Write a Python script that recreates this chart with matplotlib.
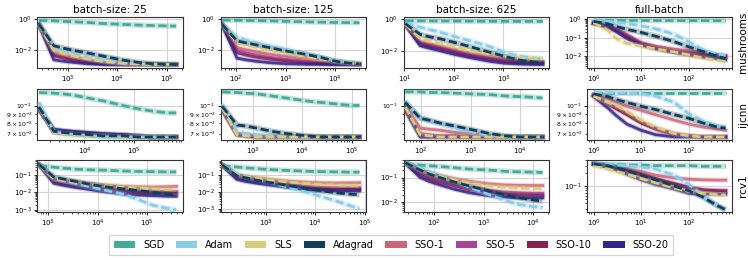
# Loss curves of baselines vs SSO on three datasets, grid of batch sizes
import numpy as np
from matplotlib import pyplot as plt
from matplotlib.patches import Patch
from matplotlib.ticker import NullFormatter

methods = ["SGD", "Adam", "SLS", "Adagrad", "SSO-1", "SSO-5", "SSO-10", "SSO-20"]
colors = ["#44AA99", "#88CCEE", "#DDCC77", "#0E3F5C", "#CC6677", "#AA4499", "#882255", "#332288"]
baselines = ["SGD", "Adam", "SLS", "Adagrad"]

col_titles = ["batch-size: 25", "batch-size: 125", "batch-size: 625", "full-batch"]
datasets = ["mushrooms", "ijcnn", "rcv1"]

# epochs at which the loss is recorded
epochs = [1, 2, 3, 5, 10, 20, 50, 100, 200, 400, 600]
# iterations per epoch for each (dataset, batch size)
iters_per_epoch = {
    "mushrooms": [260, 52, 10.4, 1],
    "ijcnn": [1200, 240, 48, 1],
    "rcv1": [648, 130, 26, 1],
}

# ---- mushrooms ----
mush_25 = {
    "SGD": [0.8, 0.75, 0.7, 0.65, 0.58, 0.5, 0.44, 0.4, 0.37, 0.35, 0.34],
    "Adam": [0.45, 0.012, 0.008, 0.005, 0.003, 0.002, 0.0014, 0.0012, 0.0011, 0.0011, 0.0011],
    "SLS": [0.45, 0.009, 0.006, 0.004, 0.0025, 0.0017, 0.0013, 0.0012, 0.0011, 0.0011, 0.0011],
    "Adagrad": [0.45, 0.018, 0.013, 0.009, 0.006, 0.0038, 0.0021, 0.0015, 0.0012, 0.0011, 0.0011],
    "SSO-1": [0.45, 0.007, 0.005, 0.0035, 0.0022, 0.0016, 0.0012, 0.0011, 0.0011, 0.0011, 0.0011],
    "SSO-5": [0.45, 0.005, 0.0035, 0.0025, 0.0017, 0.0013, 0.0011, 0.0011, 0.0011, 0.0011, 0.0011],
    "SSO-10": [0.45, 0.004, 0.003, 0.002, 0.0015, 0.0012, 0.0011, 0.0011, 0.0011, 0.0011, 0.0011],
    "SSO-20": [0.4, 0.0022, 0.0018, 0.0015, 0.0012, 0.0011, 0.0011, 0.0011, 0.0011, 0.0011, 0.0011],
}
mush_125 = {
    "SGD": [0.85, 0.83, 0.8, 0.78, 0.75, 0.7, 0.65, 0.62, 0.6, 0.58, 0.57],
    "Adam": [0.45, 0.07, 0.045, 0.03, 0.018, 0.011, 0.006, 0.0035, 0.002, 0.0015, 0.0014],
    "SLS": [0.45, 0.03, 0.022, 0.015, 0.01, 0.007, 0.004, 0.0028, 0.002, 0.0017, 0.0016],
    "Adagrad": [0.45, 0.04, 0.03, 0.022, 0.014, 0.009, 0.0055, 0.0035, 0.002, 0.0015, 0.0014],
    "SSO-1": [0.45, 0.015, 0.011, 0.008, 0.0055, 0.0042, 0.003, 0.0022, 0.0016, 0.0014, 0.0013],
    "SSO-5": [0.45, 0.01, 0.007, 0.005, 0.0035, 0.0027, 0.002, 0.0016, 0.0014, 0.0013, 0.0013],
    "SSO-10": [0.45, 0.007, 0.005, 0.0036, 0.0027, 0.0021, 0.0016, 0.0014, 0.0013, 0.0013, 0.0013],
    "SSO-20": [0.42, 0.0032, 0.0025, 0.002, 0.0016, 0.0014, 0.0013, 0.0013, 0.0013, 0.0013, 0.0013],
}
mush_625 = {
    "SGD": [0.75, 0.74, 0.73, 0.72, 0.72, 0.71, 0.7, 0.7, 0.69, 0.69, 0.68],
    "Adam": [0.55, 0.3, 0.22, 0.15, 0.08, 0.045, 0.02, 0.009, 0.005, 0.004, 0.0035],
    "SLS": [0.45, 0.06, 0.045, 0.03, 0.018, 0.011, 0.007, 0.005, 0.004, 0.0037, 0.0035],
    "Adagrad": [0.5, 0.11, 0.08, 0.06, 0.035, 0.02, 0.009, 0.005, 0.003, 0.0022, 0.002],
    "SSO-1": [0.45, 0.04, 0.03, 0.022, 0.013, 0.008, 0.005, 0.0035, 0.0028, 0.0026, 0.0025],
    "SSO-5": [0.45, 0.035, 0.025, 0.018, 0.011, 0.0065, 0.004, 0.003, 0.0024, 0.0022, 0.0021],
    "SSO-10": [0.45, 0.03, 0.021, 0.015, 0.009, 0.0055, 0.0034, 0.0025, 0.002, 0.0019, 0.0019],
    "SSO-20": [0.42, 0.022, 0.016, 0.011, 0.0065, 0.0042, 0.0025, 0.0019, 0.0017, 0.0016, 0.0016],
}
mush_full = {
    "SGD": [0.85, 0.85, 0.85, 0.84, 0.84, 0.83, 0.83, 0.82, 0.82, 0.81, 0.8],
    "Adam": [0.85, 0.75, 0.68, 0.58, 0.43, 0.3, 0.15, 0.06, 0.022, 0.013, 0.011],
    "SLS": [0.65, 0.25, 0.09, 0.05, 0.035, 0.025, 0.017, 0.012, 0.008, 0.006, 0.005],
    "Adagrad": [0.75, 0.55, 0.4, 0.28, 0.19, 0.12, 0.06, 0.032, 0.018, 0.01, 0.0075],
    "SSO-1": [0.6, 0.45, 0.3, 0.15, 0.055, 0.035, 0.024, 0.02, 0.016, 0.012, 0.011],
    "SSO-5": [0.6, 0.42, 0.27, 0.13, 0.048, 0.03, 0.02, 0.016, 0.013, 0.011, 0.01],
    "SSO-10": [0.6, 0.4, 0.25, 0.12, 0.045, 0.028, 0.018, 0.015, 0.012, 0.01, 0.0095],
    "SSO-20": [0.6, 0.35, 0.21, 0.09, 0.04, 0.025, 0.016, 0.012, 0.009, 0.0075, 0.0065],
}

# ---- ijcnn ----
ijcnn_25 = {
    "SGD": [0.118, 0.117, 0.116, 0.114, 0.11, 0.106, 0.1, 0.096, 0.093, 0.091, 0.091],
    "Adam": [0.104, 0.072, 0.07, 0.069, 0.068, 0.067, 0.067, 0.067, 0.067, 0.067, 0.067],
    "SLS": [0.097, 0.071, 0.07, 0.069, 0.068, 0.068, 0.067, 0.067, 0.067, 0.067, 0.067],
    "Adagrad": [0.098, 0.072, 0.071, 0.07, 0.069, 0.068, 0.068, 0.067, 0.067, 0.067, 0.067],
    "SSO-1": [0.096, 0.071, 0.07, 0.07, 0.069, 0.068, 0.068, 0.067, 0.067, 0.067, 0.067],
    "SSO-5": [0.096, 0.072, 0.071, 0.07, 0.07, 0.069, 0.068, 0.068, 0.067, 0.067, 0.067],
    "SSO-10": [0.095, 0.073, 0.072, 0.071, 0.07, 0.069, 0.069, 0.068, 0.067, 0.067, 0.067],
    "SSO-20": [0.095, 0.074, 0.073, 0.072, 0.071, 0.07, 0.069, 0.068, 0.067, 0.067, 0.067],
}
ijcnn_125 = {
    "SGD": [0.119, 0.118, 0.117, 0.116, 0.113, 0.11, 0.106, 0.104, 0.102, 0.1, 0.1],
    "Adam": [0.102, 0.072, 0.07, 0.069, 0.068, 0.067, 0.067, 0.067, 0.067, 0.067, 0.067],
    "SLS": [0.097, 0.069, 0.068, 0.067, 0.067, 0.067, 0.067, 0.067, 0.067, 0.067, 0.067],
    "Adagrad": [0.099, 0.078, 0.077, 0.075, 0.072, 0.07, 0.068, 0.067, 0.067, 0.067, 0.067],
    "SSO-1": [0.096, 0.07, 0.069, 0.068, 0.067, 0.067, 0.067, 0.067, 0.067, 0.067, 0.067],
    "SSO-5": [0.096, 0.069, 0.068, 0.067, 0.067, 0.067, 0.067, 0.067, 0.067, 0.067, 0.067],
    "SSO-10": [0.095, 0.069, 0.068, 0.067, 0.067, 0.067, 0.067, 0.067, 0.067, 0.067, 0.067],
    "SSO-20": [0.095, 0.069, 0.068, 0.067, 0.067, 0.067, 0.067, 0.067, 0.067, 0.067, 0.067],
}
ijcnn_625 = {
    "SGD": [0.119, 0.119, 0.118, 0.118, 0.117, 0.116, 0.115, 0.113, 0.112, 0.111, 0.11],
    "Adam": [0.106, 0.086, 0.082, 0.079, 0.075, 0.072, 0.068, 0.067, 0.067, 0.067, 0.067],
    "SLS": [0.098, 0.069, 0.068, 0.067, 0.067, 0.067, 0.067, 0.067, 0.067, 0.067, 0.067],
    "Adagrad": [0.104, 0.085, 0.083, 0.08, 0.077, 0.074, 0.07, 0.068, 0.067, 0.067, 0.067],
    "SSO-1": [0.1, 0.075, 0.074, 0.073, 0.071, 0.07, 0.068, 0.067, 0.067, 0.067, 0.067],
    "SSO-5": [0.097, 0.07, 0.069, 0.068, 0.068, 0.067, 0.067, 0.067, 0.067, 0.067, 0.067],
    "SSO-10": [0.096, 0.068, 0.067, 0.067, 0.067, 0.067, 0.067, 0.067, 0.067, 0.067, 0.067],
    "SSO-20": [0.094, 0.067, 0.067, 0.067, 0.067, 0.067, 0.067, 0.067, 0.067, 0.067, 0.067],
}
ijcnn_full = {
    "SGD": [0.118, 0.118, 0.118, 0.118, 0.118, 0.118, 0.118, 0.118, 0.118, 0.118, 0.118],
    "Adam": [0.118, 0.118, 0.117, 0.117, 0.116, 0.113, 0.104, 0.09, 0.082, 0.077, 0.076],
    "SLS": [0.113, 0.104, 0.1, 0.093, 0.083, 0.076, 0.07, 0.068, 0.067, 0.067, 0.067],
    "Adagrad": [0.116, 0.112, 0.108, 0.104, 0.099, 0.095, 0.089, 0.085, 0.08, 0.076, 0.075],
    "SSO-1": [0.115, 0.109, 0.104, 0.099, 0.094, 0.089, 0.083, 0.079, 0.076, 0.074, 0.073],
    "SSO-5": [0.114, 0.103, 0.097, 0.09, 0.081, 0.075, 0.07, 0.068, 0.067, 0.067, 0.067],
    "SSO-10": [0.114, 0.102, 0.096, 0.089, 0.08, 0.074, 0.069, 0.068, 0.067, 0.067, 0.067],
    "SSO-20": [0.112, 0.097, 0.088, 0.079, 0.073, 0.069, 0.067, 0.067, 0.067, 0.067, 0.067],
}

# ---- rcv1 ----
rcv1_25 = {
    "SGD": [0.35, 0.28, 0.25, 0.22, 0.2, 0.19, 0.17, 0.16, 0.155, 0.15, 0.15],
    "Adam": [0.4, 0.07, 0.05, 0.035, 0.022, 0.014, 0.008, 0.004, 0.0018, 0.0012, 0.001],
    "SLS": [0.4, 0.06, 0.05, 0.04, 0.03, 0.025, 0.02, 0.018, 0.016, 0.015, 0.015],
    "Adagrad": [0.4, 0.075, 0.06, 0.045, 0.03, 0.022, 0.016, 0.013, 0.01, 0.008, 0.007],
    "SSO-1": [0.4, 0.06, 0.05, 0.042, 0.033, 0.027, 0.022, 0.021, 0.02, 0.021, 0.022],
    "SSO-5": [0.4, 0.05, 0.04, 0.032, 0.024, 0.018, 0.014, 0.012, 0.011, 0.011, 0.011],
    "SSO-10": [0.4, 0.045, 0.035, 0.027, 0.02, 0.015, 0.011, 0.0095, 0.009, 0.009, 0.009],
    "SSO-20": [0.38, 0.033, 0.026, 0.02, 0.015, 0.011, 0.008, 0.007, 0.0065, 0.006, 0.006],
}
rcv1_125 = {
    "SGD": [0.35, 0.3, 0.27, 0.24, 0.21, 0.19, 0.17, 0.16, 0.155, 0.15, 0.15],
    "Adam": [0.4, 0.12, 0.08, 0.055, 0.035, 0.02, 0.01, 0.0055, 0.003, 0.0015, 0.001],
    "SLS": [0.4, 0.1, 0.08, 0.065, 0.05, 0.04, 0.032, 0.028, 0.026, 0.025, 0.025],
    "Adagrad": [0.4, 0.09, 0.07, 0.05, 0.035, 0.025, 0.016, 0.012, 0.009, 0.0075, 0.007],
    "SSO-1": [0.4, 0.1, 0.085, 0.07, 0.055, 0.045, 0.038, 0.035, 0.034, 0.035, 0.035],
    "SSO-5": [0.4, 0.08, 0.065, 0.05, 0.038, 0.03, 0.022, 0.019, 0.018, 0.018, 0.018],
    "SSO-10": [0.4, 0.07, 0.055, 0.042, 0.032, 0.025, 0.018, 0.016, 0.015, 0.015, 0.015],
    "SSO-20": [0.38, 0.055, 0.042, 0.033, 0.025, 0.019, 0.014, 0.013, 0.012, 0.012, 0.012],
}
rcv1_625 = {
    "SGD": [0.35, 0.32, 0.3, 0.28, 0.25, 0.22, 0.2, 0.18, 0.17, 0.165, 0.16],
    "Adam": [0.4, 0.25, 0.18, 0.12, 0.07, 0.04, 0.02, 0.012, 0.008, 0.0065, 0.006],
    "SLS": [0.4, 0.2, 0.15, 0.11, 0.08, 0.06, 0.045, 0.04, 0.037, 0.036, 0.035],
    "Adagrad": [0.4, 0.2, 0.14, 0.1, 0.065, 0.045, 0.028, 0.02, 0.015, 0.012, 0.011],
    "SSO-1": [0.4, 0.2, 0.16, 0.12, 0.09, 0.07, 0.055, 0.05, 0.048, 0.047, 0.047],
    "SSO-5": [0.4, 0.15, 0.11, 0.08, 0.055, 0.04, 0.03, 0.026, 0.024, 0.023, 0.023],
    "SSO-10": [0.4, 0.13, 0.09, 0.065, 0.045, 0.032, 0.025, 0.021, 0.02, 0.019, 0.019],
    "SSO-20": [0.38, 0.1, 0.07, 0.05, 0.033, 0.024, 0.018, 0.016, 0.015, 0.015, 0.015],
}
rcv1_full = {
    "SGD": [0.33, 0.32, 0.32, 0.31, 0.31, 0.3, 0.3, 0.3, 0.29, 0.29, 0.29],
    "Adam": [0.33, 0.32, 0.31, 0.3, 0.28, 0.25, 0.18, 0.11, 0.06, 0.035, 0.028],
    "SLS": [0.3, 0.25, 0.22, 0.19, 0.15, 0.12, 0.09, 0.075, 0.068, 0.063, 0.062],
    "Adagrad": [0.33, 0.3, 0.27, 0.23, 0.18, 0.14, 0.1, 0.078, 0.055, 0.035, 0.028],
    "SSO-1": [0.33, 0.31, 0.29, 0.26, 0.22, 0.18, 0.155, 0.145, 0.14, 0.138, 0.138],
    "SSO-5": [0.33, 0.3, 0.27, 0.23, 0.18, 0.14, 0.11, 0.09, 0.08, 0.078, 0.078],
    "SSO-10": [0.33, 0.3, 0.27, 0.23, 0.19, 0.15, 0.115, 0.095, 0.082, 0.078, 0.077],
    "SSO-20": [0.33, 0.28, 0.24, 0.19, 0.14, 0.11, 0.085, 0.068, 0.065, 0.065, 0.065],
}

panels = {
    "mushrooms": [mush_25, mush_125, mush_625, mush_full],
    "ijcnn": [ijcnn_25, ijcnn_125, ijcnn_625, ijcnn_full],
    "rcv1": [rcv1_25, rcv1_125, rcv1_625, rcv1_full],
}
# y limits
ylims = {
    "mushrooms": [(6e-4, 1.35), (7e-4, 1.35), (9e-4, 1.3), (2.2e-3, 1.3)],
    "ijcnn": [(0.0643, 0.124), (0.0643, 0.124), (0.0643, 0.124), (0.0643, 0.124)],
    "rcv1": [(7.5e-4, 0.7), (6.7e-4, 0.75), (4e-3, 0.5), (0.025, 0.4)],
}


def style_axis(ax):
    ax.set_xscale("log")
    ax.set_yscale("log")
    ax.grid(True, which="major", color="#d4d4d4", lw=0.8)
    ax.set_axisbelow(True)
    ax.tick_params(which="major", labelsize=5, length=2.5, width=0.6, pad=1.5)
    ax.tick_params(which="minor", length=1.5, width=0.5, labelsize=5, pad=1.5)
    for s in ax.spines.values():
        s.set_color("#333333")
        s.set_linewidth(0.8)


def draw_panel(ax, data, ipe):
    x = np.array(epochs) * ipe
    # SSO lines first, baselines (dashed) on top
    for name in methods[4:] + methods[:4]:
        c = colors[methods.index(name)]
        y = data[name]
        if name in baselines:
            ax.plot(x, y, color=c, lw=4.0, alpha=0.3, solid_capstyle="butt", zorder=3)
            ax.plot(x, y, color=c, lw=2.0, ls=(0, (3, 1.3)), zorder=4)
        else:
            ax.plot(x, y, color=c, lw=3.6, alpha=0.25, zorder=2)
            ax.plot(x, y, color=c, lw=2.0, alpha=0.85, zorder=2)


fig, axes = plt.subplots(3, 4, figsize=(7.48, 2.6), dpi=100)
fig.subplots_adjust(left=0.05, right=0.979, top=0.935, bottom=0.185, wspace=0.26, hspace=0.39)

for i, ds in enumerate(datasets):
    for j in range(4):
        ax = axes[i, j]
        style_axis(ax)
        draw_panel(ax, panels[ds][j], iters_per_epoch[ds][j])
        ipe = iters_per_epoch[ds][j]
        if j < 3:
            ax.set_xlim(ipe * epochs[0] * 0.93, ipe * epochs[-1] * 1.35)
        ax.set_ylim(*ylims[ds][j])
        if i == 0:
            ax.set_title(col_titles[j], fontsize=7.5, pad=3)
        if j == 3:
            ax.yaxis.set_label_position("right")
            ax.set_ylabel(ds, fontsize=7.5, labelpad=4)

# ijcnn: minor labels are tightly packed, keep them a bit smaller
for ax in axes[1]:
    ax.tick_params(axis="y", which="both", labelsize=4.4)
# only the base label shows in this panel
axes[1, 2].yaxis.set_minor_formatter(NullFormatter())

handles = [Patch(facecolor=c, edgecolor="none") for c in colors]
fig.legend(handles, methods, loc="lower center", bbox_to_anchor=(0.523, 0.0), ncol=8,
           fontsize=7, frameon=True, edgecolor="#cccccc", fancybox=False,
           handlelength=2.2, handleheight=0.7, columnspacing=1.2, borderpad=0.5)

fig.savefig("out.png", dpi=100)
